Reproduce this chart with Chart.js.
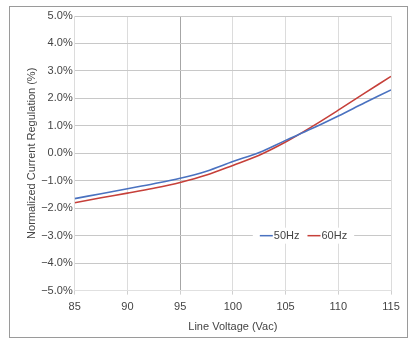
<!DOCTYPE html>
<html>
<head>
<meta charset="utf-8">
<script src="https://cdn.jsdelivr.net/npm/chart.js@4"></script>
<style>
	html, body { margin: 0; padding: 0; background: #fff; }
	#wrap { width: 411px; height: 346px; }
</style>
</head>
<body>
<div id="wrap"><canvas id="chart" width="411" height="346"></canvas></div>
<script>
var voltages = [85, 87.5, 90, 92.5, 95, 97.5, 100, 102.5, 105, 107.5, 110, 112.5, 115];
var reg50 = [-1.65, -1.47, -1.29, -1.11, -0.91, -0.65, -0.30, 0.03, 0.47, 0.90, 1.36, 1.84, 2.31];
var reg60 = [-1.80, -1.62, -1.45, -1.27, -1.06, -0.79, -0.44, -0.07, 0.41, 0.97, 1.57, 2.19, 2.80];
var seriesNames = ['50Hz', '60Hz'];
var xTicks = [85, 90, 95, 100, 105, 110, 115];
var yTicks = [-5, -4, -3, -2, -1, 0, 1, 2, 3, 4, 5];

var FONT = 'Liberation Sans, Arial, sans-serif';

function points(ys) {
	return voltages.map(function(v, i) {
		return {x: v, y: ys[i]};
	});
}

function fmtPct(v) {
	var s = Math.abs(v).toFixed(1) + '%';
	return v < 0 ? '\u2212' + s : s;
}

// gray frame round the whole figure
var framePlugin = {
	id: 'frame',
	beforeDraw: function(chart) {
		var ctx = chart.ctx;
		ctx.save();
		ctx.fillStyle = '#fff';
		ctx.fillRect(0, 0, chart.width, chart.height);
		ctx.strokeStyle = '#9a9a9a';
		ctx.lineWidth = 1;
		ctx.strokeRect(9.5, 6.5, 398, 331);
		ctx.restore();
	}
};

// legend sitting inside the plot on the -3% line
var inlineLegend = {
	id: 'inlineLegend',
	afterDatasetsDraw: function(chart) {
		var ctx = chart.ctx;
		var xs = chart.scales.x, ys = chart.scales.y;
		var cx = xs.getPixelForValue(106.7);
		var cy = ys.getPixelForValue(-3);
		ctx.save();
		ctx.font = '11px ' + FONT;
		var sample = 13, gap = 1, space = 8;
		var widths = chart.data.datasets.map(function(ds) {
			return sample + gap + ctx.measureText(ds.label).width;
		});
		var total = widths.reduce(function(a, b) { return a + b; }, 0) + space * (widths.length - 1);
		var x = cx - total / 2;
		ctx.fillStyle = '#fff';
		ctx.fillRect(x - 7, cy - 8, total + 14, 16);
		ctx.textBaseline = 'middle';
		chart.data.datasets.forEach(function(ds, i) {
			ctx.strokeStyle = ds.borderColor;
			ctx.lineWidth = 1.5;
			ctx.beginPath();
			ctx.moveTo(x, cy);
			ctx.lineTo(x + sample, cy);
			ctx.stroke();
			ctx.fillStyle = '#444';
			ctx.fillText(ds.label, x + sample + gap, cy + 0.5);
			x += widths[i] + space;
		});
		ctx.restore();
	}
};

new Chart(document.getElementById('chart'), {
	type: 'line',
	data: {
		datasets: [{
			label: seriesNames[0],
			data: points(reg50),
			borderColor: '#4a72c0',
			borderWidth: 1.6,
			pointRadius: 0,
			tension: 0.35,
			fill: false
		}, {
			label: seriesNames[1],
			data: points(reg60),
			borderColor: '#c6403a',
			borderWidth: 1.6,
			pointRadius: 0,
			tension: 0.35,
			fill: false
		}]
	},
	options: {
		responsive: false,
		animation: false,
		layout: {padding: {left: 25, right: 20, top: 16, bottom: 12}},
		plugins: {
			legend: {display: false},
			tooltip: {enabled: false}
		},
		scales: {
			x: {
				type: 'linear',
				min: 85,
				max: 115,
				afterBuildTicks: function(axis) {
					axis.ticks = xTicks.map(function(v) { return {value: v}; });
				},
				grid: {
					color: function(c) {
						return c.tick && c.tick.value === 95 ? '#a6a6a6' : '#dcdcdc';
					},
					drawTicks: true,
					tickLength: 4,
					tickColor: '#cfcfcf'
				},
				border: {display: false},
				ticks: {
					color: '#444',
					font: {family: FONT, size: 11},
					padding: 6,
					maxRotation: 0
				},
				title: {
					display: true,
					text: 'Line Voltage (Vac)',
					color: '#444',
					font: {family: FONT, size: 11},
					padding: {top: 1, bottom: 0}
				}
			},
			y: {
				min: -5,
				max: 5,
				afterBuildTicks: function(axis) {
					axis.ticks = yTicks.map(function(v) { return {value: v}; });
				},
				grid: {
					color: function(c) {
						return c.tick && c.tick.value === -5 ? '#e0e0e0' : '#c8c8c8';
					},
					drawTicks: false
				},
				border: {display: false},
				ticks: {
					color: '#444',
					font: {family: FONT, size: 11},
					padding: 2,
					callback: function(v) { return fmtPct(v); }
				},
				title: {
					display: true,
					text: 'Normalized Current Regulation (%)',
					color: '#444',
					font: {family: FONT, size: 11},
					padding: {top: 0, bottom: 1}
				}
			}
		}
	},
	plugins: [framePlugin, inlineLegend]
});
</script>
</body>
</html>
